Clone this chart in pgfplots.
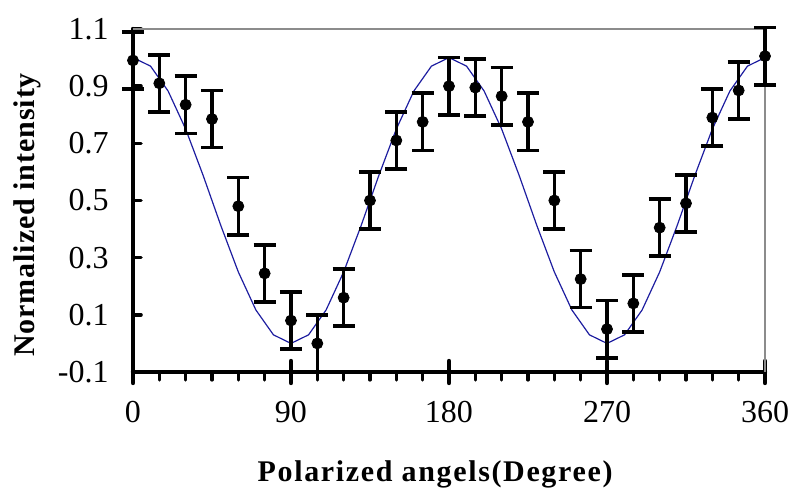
\documentclass[border=0pt]{standalone}
\usepackage{fontspec}
\setmainfont{Liberation Serif}
\newfontfamily\labelfont[LetterSpace=3]{Liberation Serif}
\newfontfamily\xlabelfont[LetterSpace=5.5]{Liberation Serif}
\usepackage{pgfplots}
\pgfplotsset{compat=1.18}
\definecolor{fitblue}{RGB}{30,30,160}
\definecolor{framegray}{RGB}{140,140,140}

\begin{document}
\begin{tikzpicture}
\begin{axis}[
  scale only axis, width=316pt, height=171.5pt,
  xmin=0, xmax=360, ymin=-0.1, ymax=1.1,
  clip=false,
  axis x line*=bottom, axis y line*=left,
  axis line style={-, line width=2.2pt, line cap=round, black},
  tick align=outside,
  major tick length=4pt,
  % small ticks every 15 degrees below the x axis
  xtick={0,15,...,360},
  xticklabels={0,,,,,,90,,,,,,180,,,,,,270,,,,,,360},
  major x tick style={line width=1.6pt, line cap=round, black},
  % long ticks across the x axis every 90 degrees
  extra x ticks={0,90,180,270,360},
  extra x tick labels={},
  extra x tick style={tick align=center, major tick length=11pt,
    major x tick style={line width=2.2pt}},
  % y ticks point into the plot
  ytick={-0.1,0.1,0.3,0.5,0.7,0.9,1.1},
  yticklabels={-0.1,0.1,0.3,0.5,0.7,0.9,1.1},
  major y tick style={draw=none},
  extra y ticks={-0.1,0.1,0.3,0.5,0.7,0.9,1.1},
  extra y tick labels={},
  extra y tick style={tick align=inside, major tick length=4pt,
    major y tick style={draw=black, line width=1.8pt, line cap=round}},
  ticklabel style={font=\fontsize{16}{19}\selectfont},
  yticklabel style={xshift=-4.7pt},
  xticklabel style={yshift=-7.2pt},
  xlabel={\xlabelfont\bfseries Polarized angels(Degree)},
  ylabel={\labelfont\bfseries Normalized intensity},
  label style={font=\fontsize{15}{18}\selectfont},
  xlabel style={at={(axis description cs:0.478,-0.2975)}, anchor=center},
  ylabel style={at={(axis description cs:-0.1677,0.458)}, anchor=center},
]
% frame on the top and right sides
\draw[framegray, line width=1pt] (rel axis cs:0,1) -- (rel axis cs:1,1) -- (rel axis cs:1,0);

% fitted cos^2 curve
\addplot[fitblue, line width=0.6pt, no marks, sharp plot] coordinates {
  (0,1.000) (10,0.970) (20,0.883) (30,0.750) (40,0.587) (50,0.413)
  (60,0.250) (70,0.117) (80,0.030) (90,0.000) (100,0.030) (110,0.117)
  (120,0.250) (130,0.413) (140,0.587) (150,0.750) (160,0.883) (170,0.970)
  (180,1.000) (190,0.970) (200,0.883) (210,0.750) (220,0.587) (230,0.413)
  (240,0.250) (250,0.117) (260,0.030) (270,0.000) (280,0.030) (290,0.117)
  (300,0.250) (310,0.413) (320,0.587) (330,0.750) (340,0.883) (350,0.970)
  (360,1.000)
};

% measured intensities with error bars
\addplot[only marks, mark=*, mark size=2.75pt, black,
  error bars/.cd, y dir=both, y fixed=0.1,
  error bar style={line width=1.8pt, black},
  error mark options={rotate=90, mark size=5.5pt, line width=1.8pt, black}]
coordinates {
  (0,0.99) (15,0.91) (30,0.835) (45,0.785) (60,0.48) (75,0.245)
  (90,0.08) (105,0.0) (120,0.16) (135,0.50) (150,0.71) (165,0.775)
  (180,0.90) (195,0.895) (210,0.865) (225,0.775) (240,0.50) (255,0.225)
  (270,0.05) (285,0.14) (300,0.405) (315,0.49) (330,0.79) (345,0.885)
  (360,1.005)
};

\coordinate (bbsw) at (rel axis cs:-0.2104,-0.344);
\coordinate (bbne) at (rel axis cs:1.0443,1.0845);
\end{axis}
\pgfresetboundingbox
\path[use as bounding box] (bbsw) rectangle (bbne);
\end{tikzpicture}
\end{document}
